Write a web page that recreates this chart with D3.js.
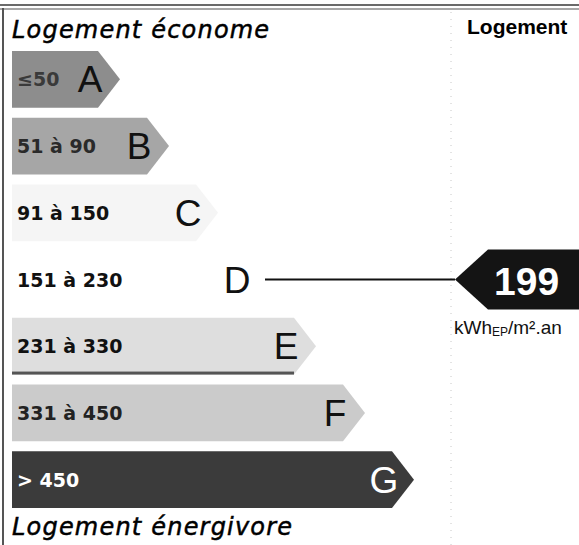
<!DOCTYPE html>
<html>
<head>
<meta charset="utf-8">
<script src="https://cdn.jsdelivr.net/npm/d3@7"></script>
<style>
  body { margin: 0; background: #fff; }
  svg { display: block; }
</style>
</head>
<body>
<svg id="dpe"></svg>
<script>
// energy classes, their ranges and the scan's grey shades
var classes = ["A", "B", "C", "D", "E", "F", "G"];
var ranges = ["≤50", "51 à 90", "91 à 150", "151 à 230", "231 à 330", "331 à 450", "> 450"];
var fills = ["#8d8d8d", "#a6a6a6", "#f5f5f5", "#ffffff", "#dedede", "#cbcbcb", "#3b3b3b"];
var labelColors = ["#3a3a3a", "#2a2a2a", "#111", "#111", "#111", "#222", "#fff"];
var value = 199;
var valueClass = "D";
var unitMain = "kWh", unitSub = "EP", unitEnd = "/m².an";
var topTitle = "Logement économe", bottomTitle = "Logement énergivore", colTitle = "Logement";

var width = 579, height = 545;

var svg = d3.select("#dpe")
    .attr("width", width)
    .attr("height", height);

// vertical band for each class
var y = d3.scaleBand()
    .domain(classes)
    .range([51, 508])
    .paddingInner(0.15)
    .paddingOuter(0);

// where each bar body stops (grows with class index)
var x = d3.scaleLinear()
    .domain([0, classes.length - 1])
    .range([98, 392]);

var x0 = 12, tip = 22;

// frame: double line on top, left edge, dotted separator
svg.append("line").attr("x1", 0).attr("x2", width).attr("y1", 5).attr("y2", 5)
    .attr("stroke", "#6a6a6a").attr("stroke-width", 2);
svg.append("line").attr("x1", 0).attr("x2", width).attr("y1", 9).attr("y2", 9)
    .attr("stroke", "#8a8a8a").attr("stroke-width", 1.5);
svg.append("line").attr("x1", 3).attr("x2", 3).attr("y1", 8).attr("y2", height)
    .attr("stroke", "#555").attr("stroke-width", 2);
svg.append("line").attr("x1", 451).attr("x2", 451).attr("y1", 12).attr("y2", height)
    .attr("stroke", "#c8c8c8").attr("stroke-width", 1).attr("stroke-dasharray", "1,6");

// titles
[[topTitle, 38], [bottomTitle, 535]].forEach(function(t) {
  svg.append("text")
      .attr("x", 12).attr("y", t[1])
      .attr("font-family", "DejaVu Sans").attr("font-style", "italic")
      .attr("font-size", 24).attr("letter-spacing", 1.2)
      .attr("stroke", "#000").attr("stroke-width", 0.5)
      .text(t[0]);
});

svg.append("text")
    .attr("x", 467).attr("y", 34)
    .attr("font-family", "Liberation Sans, Arial").attr("font-weight", "bold")
    .attr("font-size", 21)
    .text(colTitle);

// arrow shaped bars
function barPath(i) {
  var top = y(classes[i]), h = y.bandwidth(), end = x(i);
  return "M" + x0 + "," + top +
         "L" + end + "," + top +
         "L" + (end + tip) + "," + (top + h / 2) +
         "L" + end + "," + (top + h) +
         "L" + x0 + "," + (top + h) + "Z";
}

var bars = svg.append("g").selectAll("g")
    .data(classes)
  .enter().append("g");

bars.append("path")
    .attr("d", function(d, i) { return barPath(i); })
    .attr("fill", function(d, i) { return fills[i]; });

// dark shadow under the E bar, as in the scan
svg.append("rect")
    .attr("x", x0)
    .attr("y", y("E") + y.bandwidth() - 3)
    .attr("width", x(classes.indexOf("E")) - x0)
    .attr("height", 3)
    .attr("fill", "#555");

bars.append("text")
    .attr("x", 17)
    .attr("y", function(d) { return y(d) + y.bandwidth() / 2 + 7; })
    .attr("font-family", "DejaVu Sans").attr("font-weight", "bold")
    .attr("font-size", 19)
    .attr("fill", function(d, i) { return labelColors[i]; })
    .text(function(d, i) { return ranges[i]; });

bars.append("text")
    .attr("x", function(d, i) { return x(i) - 8; })
    .attr("y", function(d) { return y(d) + y.bandwidth() / 2 + 13; })
    .attr("text-anchor", "middle")
    .attr("font-family", "Liberation Sans, Arial")
    .attr("font-size", 37)
    .attr("fill", function(d, i) { return i === 6 ? "#fff" : "#111"; })
    .text(function(d) { return d; });

// indicator for the dwelling's value
var vi = classes.indexOf(valueClass);
var cy = y(valueClass) + y.bandwidth() / 2;
var ax = 455, ah = 60;

svg.append("line")
    .attr("x1", x(vi) + 20).attr("x2", ax)
    .attr("y1", cy).attr("y2", cy)
    .attr("stroke", "#111").attr("stroke-width", 1.8);

svg.append("path")
    .attr("d", "M" + ax + "," + cy +
               "L" + (ax + 33) + "," + (cy - ah / 2) +
               "L" + (width + 5) + "," + (cy - ah / 2) +
               "L" + (width + 5) + "," + (cy + ah / 2) +
               "L" + (ax + 33) + "," + (cy + ah / 2) + "Z")
    .attr("fill", "#141414");

svg.append("text")
    .attr("x", 494).attr("y", cy + 15)
    .attr("font-family", "Liberation Sans, Arial")
    .attr("font-weight", "bold")
    .attr("font-size", 39)
    .attr("fill", "#fff")
    .text(value);

var unit = svg.append("text")
    .attr("x", 454).attr("y", cy + 54)
    .attr("font-family", "Liberation Sans, Arial")
    .attr("font-size", 19)
    .attr("fill", "#111");
unit.append("tspan").text(unitMain);
unit.append("tspan").attr("font-size", 12).attr("dy", 2).text(unitSub);
unit.append("tspan").attr("dy", -2).text(unitEnd);
</script>
</body>
</html>
